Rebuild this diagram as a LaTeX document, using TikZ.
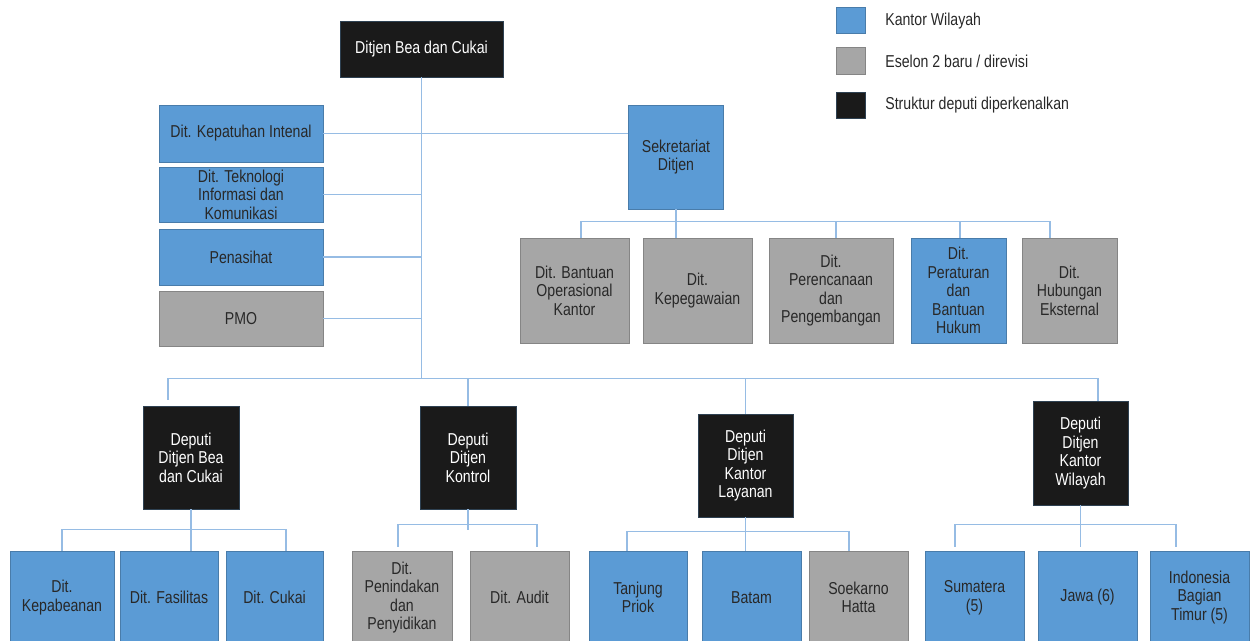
\documentclass[tikz,border=0pt]{standalone}
\usepackage{fontspec}
\setmainfont{Liberation Sans}[FakeStretch=0.82]
\usepackage{tikz}
\usetikzlibrary{calc}

\definecolor{boxblue}{RGB}{91,155,213}
\definecolor{boxgray}{RGB}{166,166,166}
\definecolor{boxblack}{RGB}{26,26,26}
\definecolor{linkblue}{RGB}{150,188,228}
\definecolor{labelgray}{RGB}{40,40,40}

\begin{document}
\begin{tikzpicture}[x=0.02cm,y=-0.02cm,
                box/.style={rectangle,inner sep=0pt,align=center,line width=0.4pt,
                  font=\fontsize{9.8}{10.6}\selectfont},
                wh/.style 2 args={minimum width=#1*0.02cm,minimum height=#2*0.02cm},
                blue node/.style={box,fill=boxblue,draw=boxblue!80!black,text=labelgray},
                gray node/.style={box,fill=boxgray,draw=boxgray!80!black,text=labelgray},
                black node/.style={box,fill=boxblack,draw=boxblack!70!boxblue,text=white},
                link/.style={draw=linkblue,line width=0.9pt}]

  \useasboundingbox (0,0) rectangle (1250,640);

  % top
  \node[black node,wh={163}{56}] (1) at (421.5,49) {Ditjen Bea dan Cukai};
  \node[blue node,wh={164}{57}] (2) at (241,133.5) {Dit. Kepatuhan Intenal};
  \node[blue node,wh={164}{55}] (3) at (241,194.5) {Dit. Teknologi\\Informasi dan\\Komunikasi};
  \node[blue node,wh={164}{56}] (4) at (241,257) {Penasihat};
  \node[gray node,wh={164}{55}] (5) at (241,318.5) {PMO};
  \node[blue node,wh={95}{104}] (6) at (676,157) {Sekretariat\\Ditjen};

  % sekretariat
  \node[gray node,wh={109}{105}] (7) at (574.5,290.5) {Dit. Bantuan\\Operasional\\Kantor};
  \node[gray node,wh={109}{105}] (8) at (697.5,290.5) {Dit.\\Kepegawaian};
  \node[gray node,wh={124}{105}] (9) at (831,290.5) {Dit.\\Perencanaan\\dan\\Pengembangan};
  \node[blue node,wh={95}{105}] (10) at (958.5,290.5) {Dit.\\Peraturan\\dan\\Bantuan\\Hukum};
  \node[gray node,wh={95}{105}] (11) at (1069.5,290.5) {Dit.\\Hubungan\\Eksternal};

  % deputi
  \node[black node,wh={96}{103}] (12) at (191,457.5) {Deputi\\Ditjen Bea\\dan Cukai};
  \node[black node,wh={96}{103}] (13) at (468,457.5) {Deputi\\Ditjen\\Kontrol};
  \node[black node,wh={95}{103}] (14) at (745.5,465.5) {Deputi\\Ditjen\\Kantor\\Layanan};
  \node[black node,wh={95}{104}] (15) at (1080.5,453) {Deputi\\Ditjen\\Kantor\\Wilayah};

  % bottom row
  \node[blue node,wh={104}{93}] (16) at (62,597.5) {Dit.\\Kepabeanan};
  \node[blue node,wh={98}{93}] (17) at (169,597.5) {Dit. Fasilitas};
  \node[blue node,wh={97}{93}] (18) at (274.5,597.5) {Dit. Cukai};
  \node[gray node,wh={100}{93}] (19) at (402,597.5) {Dit.\\Penindakan\\dan\\Penyidikan};
  \node[gray node,wh={99}{93}] (20) at (519.5,597.5) {Dit. Audit};
  \node[blue node,wh={98}{93}] (21) at (638,597.5) {Tanjung\\Priok};
  \node[blue node,wh={99}{93}] (22) at (751.5,597.5) {Batam};
  \node[gray node,wh={99}{93}] (23) at (858.5,597.5) {Soekarno\\Hatta};
  \node[blue node,wh={99}{93}] (24) at (974.5,597.5) {Sumatera\\(5)};
  \node[blue node,wh={99}{93}] (25) at (1087.5,597.5) {Jawa (6)};
  \node[blue node,wh={99}{93}] (26) at (1199.5,597.5) {Indonesia\\Bagian\\Timur (5)};

  % legend
  \node[blue node,wh={29}{26}] (l1) at (850.5,20.5) {};
  \node[gray node,wh={29}{27}] (l2) at (850.5,60.5) {};
  \node[black node,wh={29}{26}] (l3) at (850.5,105) {};
  \node[box,anchor=west,text=labelgray] at (885,21) {Kantor Wilayah};
  \node[box,anchor=west,text=labelgray] at (885,61) {Eselon 2 baru / direvisi};
  \node[box,anchor=west,text=labelgray] at (885,105) {Struktur deputi diperkenalkan};

  % connectors
  \draw[link] (1.south) -- ++(0,301) coordinate (b0);
  \draw[link] (2.east) -- (2.east -| 6.west);
  \draw[link] (3.east) -- (3.east -| b0);
  \draw[link] (4.east) -- (4.east -| b0);
  \draw[link] (5.east) -- (5.east -| b0);

  \draw[link] (6) -- (6 |- 8.north);
  \draw[link] ($(7.north)+(6.5,0)$) -- ++(0,-16) -| ($(11.north)+(-19.5,0)$);
  \draw[link] ($(9.north)+(5,0)$) -- ++(0,-16);
  \draw[link] ($(10.north)+(1.5,0)$) -- ++(0,-16);

  \draw[link] ($(12.north)+(-23,-6)$) |- (b0) -| ($(15.north)+(17.5,0)$);
  \draw[link] (13) -- (13 |- b0);
  \draw[link] (14) -- (14 |- b0);

  \draw[link] (12) -- (12 |- 17.north);
  \draw[link] (16.north) -- ++(0,-21) -| ($(18.north)+(11.5,0)$);

  \draw[link] (13.south) -- ++(0,21);
  \draw[link] ($(19.north)+(-4,-4)$) -- ++(0,-22) -| ($(20.north)+(17.5,-4)$);

  \draw[link] (14.south) -- ++(0,34);
  \draw[link] ($(21.north)+(-11,0)$) -- ++(0,-19) -| ($(23.north)+(-9.5,0)$);

  \draw[link] (15.south) -- ++(0,42);
  \draw[link] ($(24.north)+(-19.5,-4)$) -- ++(0,-22) -| ($(26.north)+(-23.5,-4)$);

\end{tikzpicture}
\end{document}
